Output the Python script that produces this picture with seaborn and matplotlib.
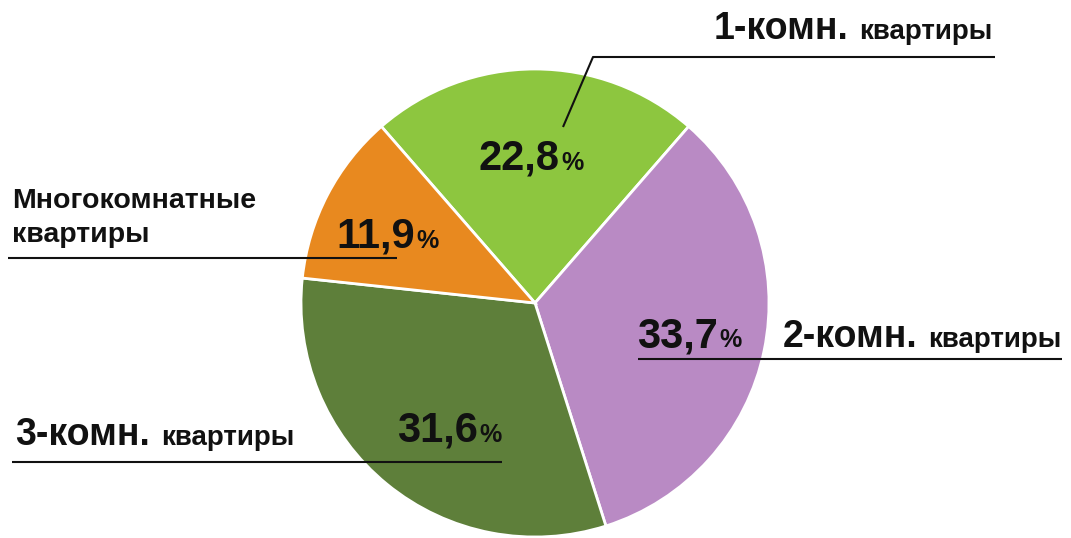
import matplotlib
matplotlib.use("Agg")
import matplotlib.pyplot as plt
import seaborn as sns

# data
categories = ["1-комн.", "2-комн.", "3-комн.", "Многокомнатные"]
shares = [22.8, 33.7, 31.6, 11.9]
colors = ["#8DC63F", "#B98AC4", "#5E7F3A", "#E8891F"]

H = 538  # picture height in px, y is flipped below

sns.set_theme(style="white")
plt.rcParams["font.family"] = ["Liberation Sans", "DejaVu Sans"]

fig = plt.figure(figsize=(10.71, 5.38), dpi=100)
ax = fig.add_axes([0, 0, 1, 1])

# 1-комн. centred on the top, going clockwise
start = 90 + shares[0] * 3.6 / 2
ax.pie(shares, colors=colors, startangle=start, counterclock=False,
       center=(535, H - 303), radius=234, frame=True,
       wedgeprops=dict(edgecolor="white", linewidth=2))
ax.set_xlim(0, 1071)
ax.set_ylim(0, H)
ax.axis("off")

def pct(v):
    return f"{v:.1f}".replace(".", ",")

# percentage labels: (right edge of number, baseline) in px
pct_pos = [(560, 170), (718, 347), (478, 442), (415, 248)]
for v, (x, y) in zip(shares, pct_pos):
    ax.text(x, H - y, pct(v), ha="right", va="baseline",
            fontsize=30, fontweight="bold", color="#111111")
    ax.text(x + 1, H - y, "%", ha="left", va="baseline",
            fontsize=18, fontweight="bold", color="#111111")

# category labels
big = dict(fontsize=27, fontweight="bold", color="#111111", va="baseline")
small = dict(fontsize=20, fontweight="bold", color="#111111", va="baseline")

ax.text(849, H - 39, categories[0], ha="right", **big)
ax.text(859, H - 39, "квартиры", ha="left", **small)

ax.text(918, H - 347, categories[1], ha="right", **big)
ax.text(928, H - 347, "квартиры", ha="left", **small)

ax.text(150, H - 445, categories[2], ha="right", **big)
ax.text(161, H - 445, "квартиры", ha="left", **small)

ax.text(12, H - 208, categories[3], ha="left", fontsize=20.5,
        fontweight="bold", color="#111111", va="baseline")
ax.text(12, H - 242, "квартиры", ha="left", fontsize=20.5,
        fontweight="bold", color="#111111", va="baseline")

# leader lines
line = dict(color="#111111", lw=1.5, solid_capstyle="butt")
ax.plot([563, 593, 995], [H - 127, H - 57, H - 57], **line)
ax.plot([8, 397], [H - 258, H - 258], **line)
ax.plot([638, 1062], [H - 359, H - 359], **line)
ax.plot([12, 502], [H - 462, H - 462], **line)

fig.savefig("out.png", dpi=100)
plt.close(fig)
